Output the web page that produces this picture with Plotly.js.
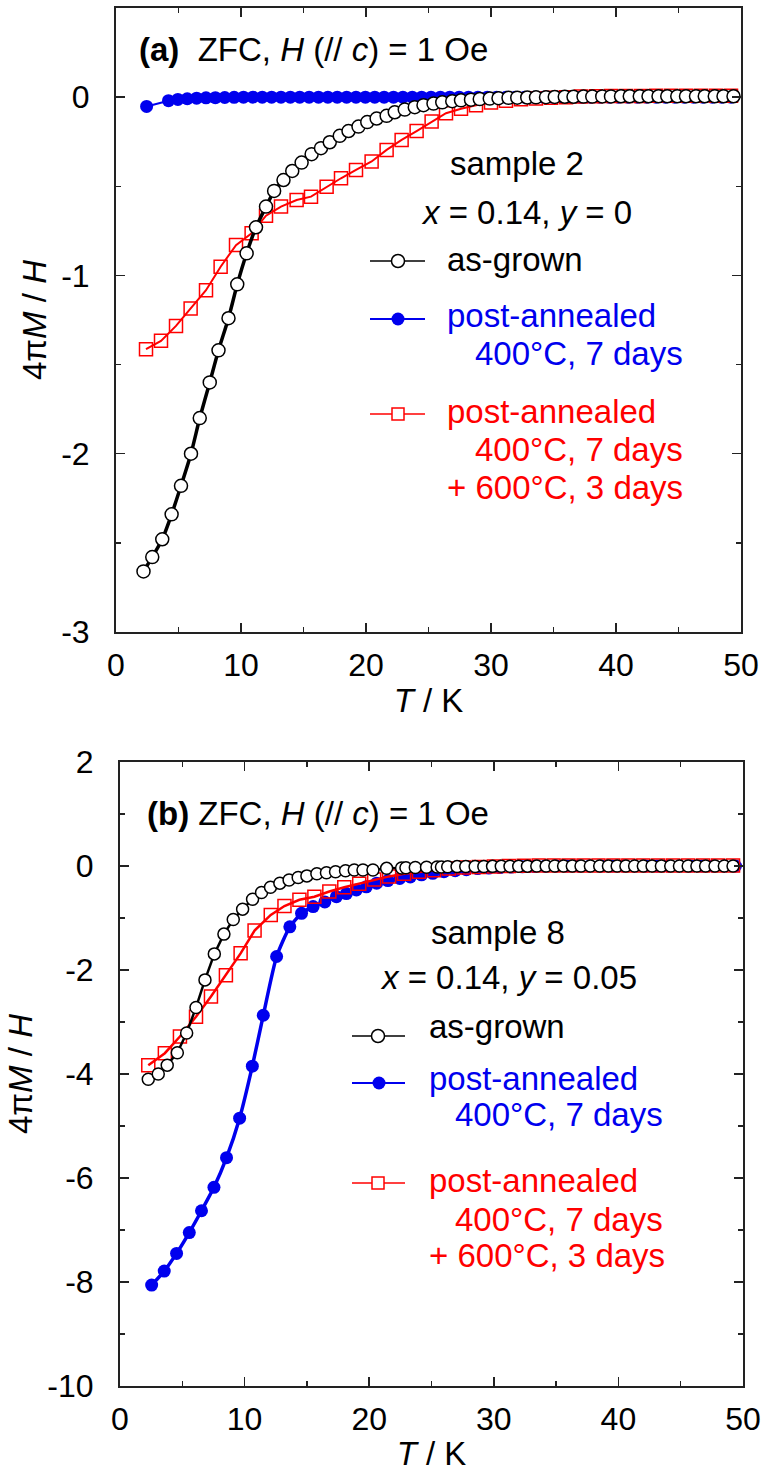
<!DOCTYPE html>
<html>
<head>
<meta charset="utf-8">
<script src="https://cdn.plot.ly/plotly-3.0.1.min.js"></script>
<style>html,body{margin:0;padding:0;background:#fff;}#chart{width:767px;height:1472px;}</style>
</head>
<body>
<div id="chart"></div>
<script>
// ---------- Data: panel (a) sample 2, x = 0.14, y = 0 ----------
const s2_asgrown_T = [2.2,2.9,3.7,4.45,5.2,6.0,6.7,7.5,8.2,9.0,9.7,10.45,11.2,12.0,12.65,13.4,14.1,14.85,15.65,16.4,17.1,17.9,18.6,19.4,20.1,20.85,21.65,22.3,23.1,23.9,24.6,25.4,26.1,26.9,27.6,28.4,29.1,29.9,30.6,31.4,32.1,32.9,33.6,34.4,35.1,35.9,36.6,37.4,38.1,38.9,39.6,40.4,41.1,41.9,42.6,43.4,44.1,44.9,45.6,46.4,47.1,47.9,48.6,49.4];
const s2_asgrown_M = [-2.66,-2.58,-2.48,-2.34,-2.18,-2.0,-1.80,-1.60,-1.42,-1.24,-1.05,-0.876,-0.73,-0.614,-0.526,-0.465,-0.414,-0.367,-0.32,-0.286,-0.253,-0.217,-0.19,-0.165,-0.14,-0.12,-0.105,-0.085,-0.07,-0.056,-0.045,-0.036,-0.029,-0.023,-0.018,-0.014,-0.011,-0.008,-0.006,-0.004,-0.003,-0.002,-0.001,0,0.001,0.002,0.002,0.003,0.003,0.004,0.004,0.005,0.005,0.005,0.005,0.005,0.005,0.005,0.005,0.005,0.005,0.005,0.005,0.005];

const s2_pa400_T = [2.45,4.2,4.95,5.7,6.45,7.2,7.95,8.7,9.45,10.2,10.95,11.7,12.45,13.2,13.95,14.7,15.45,16.2,16.95,17.7,18.45,19.2,19.95,20.7,21.45,22.2,22.95,23.7,24.45,25.2,25.95,26.7,27.45,28.2,28.95,29.7,30.45,31.2,31.95,32.7,33.45,34.2,34.95,35.7,36.45,37.2,37.95,38.7,39.45,40.2,40.95,41.7,42.45,43.2,43.95,44.7,45.45,46.2,46.95,47.7,48.45,49.2];
const s2_pa400_M = [-0.052,-0.02,-0.013,-0.009,-0.006,-0.004,-0.003,-0.002,-0.001,0,0,0,0,0,0,0,0,0,0,0,0,0,0,0,0,0,0,0,0,0,0,0,0,0,0,0,0,0,0,0,0,0,0,0,0,0,0,0,0,0,0,0,0,0,0,0,0,0,0,0,0,0];

const s2_pa600_T = [2.4,3.6,4.8,5.97,7.2,8.37,9.6,10.85,12.0,13.2,14.45,15.6,16.85,18.0,19.2,20.45,21.65,22.85,24.05,25.25,26.4,27.6,28.8,30.0,31.2,32.4,33.6,34.8,36.0,37.2,38.4,39.6,40.8,42.0,43.2,44.4,45.6,46.8,48.0,49.2];
const s2_pa600_M = [-1.414,-1.367,-1.283,-1.185,-1.083,-0.951,-0.83,-0.764,-0.665,-0.614,-0.577,-0.558,-0.502,-0.455,-0.408,-0.361,-0.296,-0.24,-0.19,-0.137,-0.09,-0.065,-0.045,-0.03,-0.02,-0.012,-0.007,-0.003,0,0.003,0.005,0.006,0.007,0.007,0.008,0.008,0.008,0.008,0.008,0.008];

// ---------- Data: panel (b) sample 8, x = 0.14, y = 0.05 ----------
const s8_asgrown_T = [2.27,3.07,3.79,4.6,5.35,6.1,6.82,7.57,8.34,9.09,9.84,10.64,11.36,12.08,12.83,13.57,14.3,15.0,15.8,16.57,17.3,18.1,18.8,19.5,20.3,21.4,22.6,22.95,23.7,24.6,25.45,25.8,26.3,27.05,27.75,28.5,29.2,29.9,30.6,31.3,32.0,32.7,33.45,34.2,34.9,35.6,36.3,37.0,37.75,38.5,39.2,39.9,40.6,41.3,42.0,42.7,43.45,44.2,44.9,45.6,46.3,47.0,47.75,48.5,49.2];
const s8_asgrown_M = [-4.10,-4.0,-3.83,-3.59,-3.21,-2.72,-2.19,-1.69,-1.31,-1.03,-0.83,-0.64,-0.51,-0.41,-0.33,-0.27,-0.22,-0.19,-0.15,-0.13,-0.11,-0.09,-0.077,-0.077,-0.077,-0.045,-0.04,-0.035,-0.03,-0.025,-0.02,-0.02,-0.015,-0.012,-0.01,-0.009,-0.008,-0.007,-0.006,-0.005,-0.004,-0.003,-0.002,-0.002,-0.001,0,0,0,0,0,0,0,0,0,0,0,0,0,0,0,0,0,0,0,0];

const s8_pa400_T = [2.54,3.55,4.54,5.56,6.54,7.54,8.55,9.6,10.62,11.5,12.57,13.63,14.57,15.5,16.44,17.37,18.17,18.97,19.77,20.6,21.5,22.45,23.3,24.2,25.1,26.0,26.9,27.8,28.7,29.6,30.5,31.4,32.3,33.2,34.1,35.0,35.9,36.8,37.7,38.6,39.5,40.4,41.3,42.2,43.1,44.0,44.9,45.8,46.7,47.6,48.5,49.4];
const s8_pa400_M = [-8.06,-7.79,-7.45,-7.05,-6.63,-6.18,-5.61,-4.85,-3.85,-2.87,-1.74,-1.17,-0.91,-0.78,-0.69,-0.59,-0.53,-0.46,-0.40,-0.33,-0.28,-0.24,-0.21,-0.17,-0.14,-0.11,-0.09,-0.07,-0.05,-0.04,-0.03,-0.02,-0.015,-0.01,-0.005,0,0,0,0,0,0,0,0,0,0,0,0,0,0,0,0,0];

const s8_pa600_T = [2.27,3.6,4.81,6.1,7.3,8.5,9.68,10.8,12.1,13.2,14.4,15.6,16.8,18.0,19.2,20.4,21.6,22.8,24.0,25.2,26.4,27.6,28.8,30.0,31.2,32.4,33.6,34.8,36.0,37.2,38.4,39.6,40.8,42.0,43.2,44.4,45.6,46.8,48.0,49.2];
const s8_pa600_M = [-3.83,-3.60,-3.28,-2.90,-2.51,-2.10,-1.68,-1.24,-0.94,-0.77,-0.65,-0.59,-0.49,-0.41,-0.34,-0.26,-0.20,-0.15,-0.11,-0.08,-0.05,-0.03,-0.02,-0.01,0,0.005,0.01,0.01,0.01,0.01,0.01,0.01,0.01,0.01,0.01,0.01,0.01,0.01,0.01,0.01];

// ---------- Tick labels ----------
const xTickVals = [0,10,20,30,40,50];
const xTickText = ["0","10","20","30","40","50"];
const yaTickVals = [-3,-2,-1,0];
const yaTickText = ["-3","-2","-1","0"];
const ybTickVals = [-10,-8,-6,-4,-2,0,2];
const ybTickText = ["-10","-8","-6","-4","-2","0","2"];

// ---------- Layout helpers ----------
const W = 767, Hh = 1472;
const FONT = "Liberation Sans, Arial, sans-serif";
const px = x => x / W;
const py = y => 1 - y / Hh;

const traces = [
  // panel (a)
  {x: s2_pa400_T, y: s2_pa400_M, xaxis:'x', yaxis:'y', mode:'lines+markers', name:'post-annealed 400°C, 7 days',
   line:{color:'#0000ee', width:2}, marker:{symbol:'circle', size:13, color:'#0000ee', line:{width:0}}},
  {x: s2_pa600_T, y: s2_pa600_M, xaxis:'x', yaxis:'y', mode:'lines+markers', name:'post-annealed 400°C, 7 days + 600°C, 3 days',
   line:{color:'#ff0000', width:2}, marker:{symbol:'square', size:13, color:'rgba(255,255,255,0)', line:{color:'#ff0000', width:1.5}}},
  {x: s2_asgrown_T, y: s2_asgrown_M, xaxis:'x', yaxis:'y', mode:'lines+markers', name:'as-grown',
   line:{color:'#000', width:3.5, shape:'spline', smoothing:0.5}, marker:{symbol:'circle', size:13, color:'#fff', line:{color:'#000', width:1.5}}},
  // panel (b)
  {x: s8_pa400_T, y: s8_pa400_M, xaxis:'x2', yaxis:'y2', mode:'lines+markers', name:'post-annealed 400°C, 7 days',
   line:{color:'#0000ee', width:3.5, shape:'spline', smoothing:0.6}, marker:{symbol:'circle', size:13, color:'#0000ee', line:{width:0}}},
  {x: s8_pa600_T, y: s8_pa600_M, xaxis:'x2', yaxis:'y2', mode:'lines+markers', name:'post-annealed 400°C, 7 days + 600°C, 3 days',
   line:{color:'#ff0000', width:2.5}, marker:{symbol:'square', size:13, color:'rgba(255,255,255,0)', line:{color:'#ff0000', width:1.5}}},
  {x: s8_asgrown_T, y: s8_asgrown_M, xaxis:'x2', yaxis:'y2', mode:'lines+markers', name:'as-grown',
   line:{color:'#000', width:2.5}, marker:{symbol:'circle', size:12, color:'#fff', line:{color:'#000', width:1.5}}}
];

function xAxis(domain, anchor) {
  return {
    domain: domain, anchor: anchor, range: [0, 50],
    tickmode:'array', tickvals: xTickVals, ticktext: xTickText,
    ticks:'inside', ticklen:9, tickwidth:1.5, tickcolor:'#222',
    minor:{tickmode:'linear', tick0:0, dtick:5, ticks:'inside', ticklen:5, tickwidth:1.5, tickcolor:'#222'},
    showline:true, linewidth:2, linecolor:'#222', mirror:'allticks',
    showgrid:false, zeroline:false,
    tickfont:{family:FONT, size:32, color:'#000'}, ticklabelstandoff:4,
    title:{text:'<i>T</i> / K', font:{family:FONT, size:33, color:'#000'}, standoff:6}
  };
}
function yAxis(domain, anchor, range, vals, text, minorD) {
  return {
    domain: domain, anchor: anchor, range: range,
    tickmode:'array', tickvals: vals, ticktext: text,
    ticks:'inside', ticklen:9, tickwidth:1.5, tickcolor:'#222',
    minor:{tickmode:'linear', tick0:0, dtick:minorD, ticks:'inside', ticklen:5, tickwidth:1.5, tickcolor:'#222'},
    showline:true, linewidth:2, linecolor:'#222', mirror:'allticks',
    showgrid:false, zeroline:false,
    tickfont:{family:FONT, size:32, color:'#000'}, ticklabelstandoff:18,
    title:{text:'4π<i>M</i> / <i>H</i>', font:{family:FONT, size:33, color:'#000'}, standoff:5}
  };
}

const tf = (t, color) => ({family:FONT, size:33, color: color || '#000'});
function ann(text, x, y, anchor, color) {
  return {text:text, xref:'paper', yref:'paper', x:px(x), y:py(y), xanchor:anchor, yanchor:'middle',
          showarrow:false, font:tf(text, color)};
}

const annotations = [
  ann('<b>(a)</b>&nbsp;&nbsp;ZFC, <i>H</i> (// <i>c</i>) = 1 Oe', 137, 50, 'left'),
  ann('sample 2', 517, 163, 'center'),
  ann('<i>x</i> = 0.14, <i>y</i> = 0', 526, 212, 'center'),
  ann('as-grown', 445, 260, 'left'),
  ann('post-annealed', 445, 315, 'left', '#0000ee'),
  ann('400°C, 7 days', 473, 353, 'left', '#0000ee'),
  ann('post-annealed', 445, 411, 'left', '#ff0000'),
  ann('400°C, 7 days', 473, 450, 'left', '#ff0000'),
  ann('+ 600°C, 3 days', 445, 487, 'left', '#ff0000'),

  ann('<b>(b)</b> ZFC, <i>H</i> (// <i>c</i>) = 1 Oe', 145, 813, 'left'),
  ann('sample 8', 498, 932, 'center'),
  ann('<i>x</i> = 0.14, <i>y</i> = 0.05', 509, 977, 'center'),
  ann('as-grown', 427, 1026, 'left'),
  ann('post-annealed', 427, 1078, 'left', '#0000ee'),
  ann('400°C, 7 days', 453, 1114, 'left', '#0000ee'),
  ann('post-annealed', 427, 1180, 'left', '#ff0000'),
  ann('400°C, 7 days', 453, 1219, 'left', '#ff0000'),
  ann('+ 600°C, 3 days', 427, 1255, 'left', '#ff0000')
];

function legLine(x0, x1, y, color, w) {
  return {type:'line', xref:'paper', yref:'paper', x0:px(x0), x1:px(x1), y0:py(y), y1:py(y), line:{color:color, width:w}};
}
function legMark(type, x, y, r, fill, color, w) {
  return {type:type, xref:'paper', yref:'paper', xsizemode:'pixel', ysizemode:'pixel',
          xanchor:px(x), yanchor:py(y), x0:-r, x1:r, y0:-r, y1:r,
          fillcolor:fill, line:{color:color, width:w}};
}
const shapes = [
  legLine(370, 425, 261, '#000', 1.5), legMark('circle', 398, 261, 6.5, '#fff', '#000', 1.5),
  legLine(370, 425, 319, '#0000ee', 2), legMark('circle', 398, 319, 6.5, '#0000ee', '#0000ee', 0),
  legLine(370, 425, 414, '#ff0000', 1.5), legMark('rect', 398, 414, 6, '#fff', '#ff0000', 1.5),
  legLine(352, 405, 1036, '#000', 1.5), legMark('circle', 378, 1036, 6.5, '#fff', '#000', 1.5),
  legLine(352, 405, 1083, '#0000ee', 2), legMark('circle', 379, 1083, 6.5, '#0000ee', '#0000ee', 0),
  legLine(352, 405, 1183, '#ff0000', 1.5), legMark('rect', 378, 1183, 6, '#fff', '#ff0000', 1.5)
];

const layout = {
  width: W, height: Hh,
  margin:{l:0, r:0, t:0, b:0, pad:0},
  paper_bgcolor:'#fff', plot_bgcolor:'#fff',
  showlegend:false,
  font:{family:FONT, color:'#000'},
  xaxis: xAxis([116/W, 741/W], 'y'),
  yaxis: yAxis([1-632/Hh, 1-8/Hh], 'x', [-3, 0.5], yaTickVals, yaTickText, 0.5),
  xaxis2: xAxis([120/W, 743/W], 'y2'),
  yaxis2: yAxis([1-1386/Hh, 1-762/Hh], 'x2', [-10, 2], ybTickVals, ybTickText, 1),
  annotations: annotations,
  shapes: shapes
};

Plotly.newPlot('chart', traces, layout, {displayModeBar:false, staticPlot:true});
</script>
</body>
</html>
